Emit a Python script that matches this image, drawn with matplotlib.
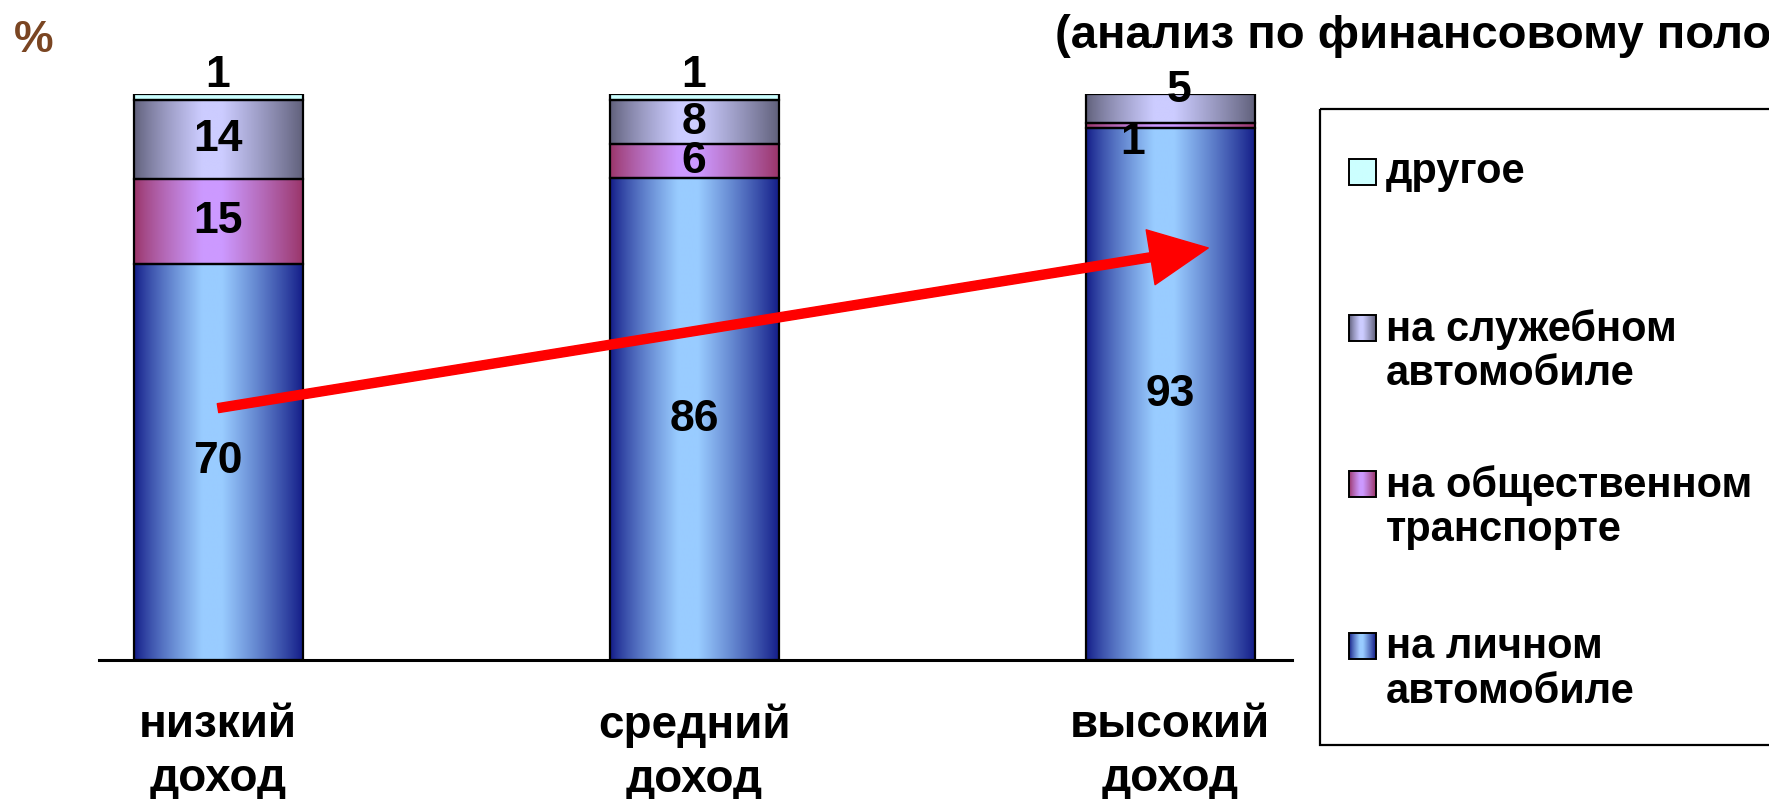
import numpy as np
import matplotlib
matplotlib.use("Agg")
import matplotlib.pyplot as plt
from matplotlib.patches import Rectangle
from matplotlib.colors import to_rgb

plt.rcParams["font.family"] = ["Liberation Sans", "DejaVu Sans"]
plt.rcParams["font.weight"] = "bold"

# --- data -------------------------------------------------------------
categories = ["низкий\nдоход", "средний\nдоход", "высокий\nдоход"]
series_names = ["на личном\nавтомобиле", "на общественном\nтранспорте",
                "на служебном\nавтомобиле", "другое"]
personal = [70, 86, 93]
public = [15, 6, 1]
service = [14, 8, 5]
other = [1, 1, 0]

# --- styling ----------------------------------------------------------
W, H = 1769, 799
dark_light = [("#111a86", "#99ccff"),   # личный автомобиль
              ("#993366", "#cc99ff"),   # общественный транспорт
              ("#5e5e78", "#ccccff"),   # служебный автомобиль
              ("#ccffff", "#ccffff")]   # другое


def gradient(dark, light, n=200):
    t = np.linspace(0, 1, n)
    f = np.where(t < 0.4, (t / 0.4) ** 0.8,
                 np.where(t < 0.52, 1.0, ((1 - t) / 0.48) ** 0.9))
    d, l = np.array(to_rgb(dark)), np.array(to_rgb(light))
    img = d[None, :] * (1 - f[:, None]) + l[None, :] * f[:, None]
    return img[None, :, :]


fig = plt.figure(figsize=(W / 100, H / 100), dpi=100)
ax = fig.add_axes([99 / W, 1 - 660 / H, (1292 - 99) / W, (660 - 94) / H])

values = np.array([personal, public, service, other], dtype=float)
totals = values.sum(axis=0)
shares = values / totals
x = np.arange(len(categories))
width = 0.355

# label offsets (pixels) for segments too thin to hold their label
label_offsets = {(3, 0): (0, 21), (3, 1): (0, 21),
                 (1, 2): (-38, -17), (2, 2): (9, 18)}

bottom = np.zeros(len(categories))
for s in range(len(values)):
    bars = ax.bar(x, shares[s], width, bottom=bottom, facecolor="none",
                  edgecolor="black", linewidth=1.6, zorder=3)
    grad = gradient(*dark_light[s])
    for i, rect in enumerate(bars):
        if values[s, i] <= 0:
            rect.set_visible(False)
            continue
        x0, y0 = rect.get_x(), rect.get_y()
        ax.imshow(grad, extent=[x0, x0 + rect.get_width(), y0, y0 + rect.get_height()],
                  aspect="auto", interpolation="bilinear", zorder=2)
        dx, dy = label_offsets.get((s, i), (0, 0))
        ax.annotate(f"{values[s, i]:.0f}", (x[i], y0 + rect.get_height() / 2),
                    xytext=(dx * 0.72, dy * 0.72), textcoords="offset points",
                    ha="center", va="center", fontsize=32, fontweight="bold",
                    color="black", zorder=5, annotation_clip=False)
    bottom += shares[s]

ax.set_xlim(-0.25, 2.256)
ax.set_ylim(0, 1)
for side in ["left", "right", "top"]:
    ax.spines[side].set_visible(False)
ax.spines["bottom"].set_linewidth(2.2)
ax.set_yticks([])
ax.set_xticks(x)
ax.set_xticklabels(categories, fontsize=33, fontweight="bold", linespacing=1.3)
ax.tick_params(axis="x", length=0, pad=31)

# trend arrow across the personal-car share
arrow_start = (0.0, 0.445)
arrow_end = (2.08, 0.728)
ax.annotate("", xy=arrow_end, xytext=arrow_start,
            arrowprops=dict(arrowstyle="simple,head_length=42,head_width=40,tail_width=6.5",
                            mutation_scale=1, color="#ff0000", shrinkA=0, shrinkB=0),
            annotation_clip=False, zorder=6)

# --- overlay in pixel coordinates for legend and headings --------------
ov = fig.add_axes([0, 0, 1, 1], zorder=10)
ov.set_xlim(0, W)
ov.set_ylim(H, 0)
ov.axis("off")
ov.patch.set_alpha(0)

ov.add_patch(Rectangle((1320, 109), 600, 636, fill=False, edgecolor="black",
                       linewidth=1.6))
legend_rows = [(3, 172), (2, 328), (1, 484), (0, 646)]
line_gap = 47
for s, y in legend_rows:
    ov.imshow(gradient(*dark_light[s], n=40), extent=[1349, 1376, y + 13, y - 13],
              aspect="auto", interpolation="bilinear")
    ov.add_patch(Rectangle((1349, y - 13), 27, 26, fill=False, edgecolor="black",
                           linewidth=1.4))
    nlines = series_names[s].count("\n") + 1
    ov.text(1386, y + (nlines - 1) * line_gap / 2, series_names[s], fontsize=30,
            fontweight="bold", ha="left", va="center", linespacing=1.14)
ov.set_xlim(0, W)
ov.set_ylim(H, 0)

fig.text(1055 / W, 1 - 36 / H, "(анализ по финансовому положению)", fontsize=34,
         fontweight="bold", ha="left", va="center")
fig.text(14 / W, 1 - 41 / H, "%", fontsize=32, fontweight="bold", color="#7a4522",
         ha="left", va="center")

fig.savefig("out.png", dpi=100, facecolor="white")
